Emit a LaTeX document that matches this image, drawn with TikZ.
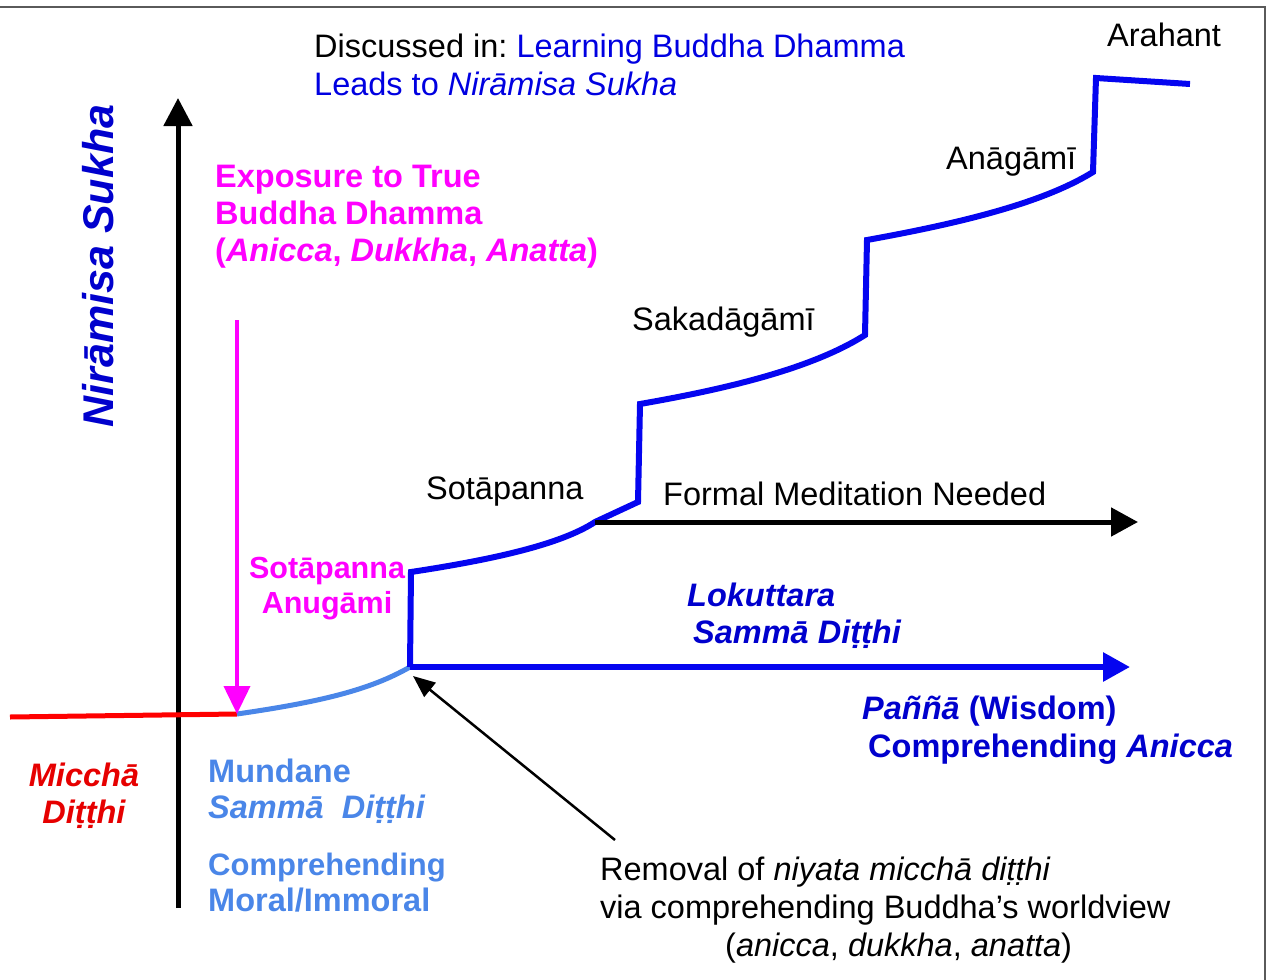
\documentclass[tikz,border=0pt]{standalone}
\usepackage{fontspec}
\setmainfont{Liberation Sans}
\usetikzlibrary{arrows.meta}
\definecolor{textblue}{RGB}{0,0,225}
\definecolor{lineblue}{RGB}{5,5,240}
\definecolor{darkblue}{RGB}{0,0,205}
\definecolor{lightblue}{RGB}{74,134,232}
\definecolor{magentaC}{RGB}{255,0,255}
\definecolor{redline}{RGB}{255,0,0}
\definecolor{redtext}{RGB}{230,0,0}
\definecolor{framegray}{RGB}{90,90,90}
\frenchspacing
\begin{document}
\begin{tikzpicture}[x=1pt,y=-1pt,
  norm/.style={inner sep=0pt, anchor=base west, font=\fontsize{32.5}{38}\selectfont},
  bld/.style={norm, font=\fontsize{32.5}{38}\selectfont\bfseries},
  bldc/.style={inner sep=0pt, anchor=base, font=\fontsize{32.5}{38}\selectfont\bfseries},
  stepline/.style={draw=lineblue, line width=6pt},
  bigtip/.style={-{Triangle[length=28pt,width=28pt]}},
]
\useasboundingbox (0,0) rectangle (1270,980);
% frame
\draw[framegray, line width=2pt] (0,7) -- (1265,7) -- (1265,980);

% coordinates
\coordinate (axisBot) at (178,908);
\coordinate (axisTop) at (178,98);
\coordinate (redStart) at (10,717);
\coordinate (turn) at (237,714);
\coordinate (magTop) at (237,320);
\coordinate (j0) at (410,667);
\coordinate (s1a) at (411,572);
\coordinate (fm) at (595,522);
\coordinate (s1b) at (638,502);
\coordinate (s2a) at (640,404);
\coordinate (s2b) at (865,335);
\coordinate (s3a) at (867,240);
\coordinate (s3b) at (1093,172);
\coordinate (s4a) at (1096,78);
\coordinate (s4b) at (1190,84);
\coordinate (blueEnd) at (1130,667);
\coordinate (fmEnd) at (1138,522);
\coordinate (remStart) at (615,840);
\coordinate (remTip) at (413,676);

% axis
\draw[black, line width=5pt, bigtip] (axisBot) -- (axisTop);
% red and light blue base
\draw[redline, line width=5pt] (redStart) -- (turn);
\draw[lightblue, line width=5pt] (turn) .. controls (320,702) and (370,690) .. (j0);
% magenta arrow
\draw[magentaC, line width=4pt, -{Triangle[length=28pt,width=26pt]}] (magTop) -- (turn);
% blue steps
\draw[stepline, line join=miter] (j0) -- (s1a)
  .. controls (490,560) and (560,545) .. (fm)
  -- (s1b) -- (s2a)
  .. controls (720,390) and (810,370) .. (s2b)
  -- (s3a)
  .. controls (950,225) and (1040,205) .. (s3b)
  -- (s4a) -- (s4b);
% blue arrow
\draw[lineblue, line width=6pt, -{Triangle[length=27pt,width=28pt]}] (j0) -- (blueEnd);
% formal meditation arrow
\draw[black, line width=5pt, -{Triangle[length=27pt,width=28pt]}] (fm) -- (fmEnd);
% removal arrow
\draw[black, line width=2.5pt, -{Triangle[length=22pt,width=18pt]}] (remStart) -- (remTip);

% texts
\node[norm] (disc) at (314,57) {Discussed in: \textcolor{textblue}{Learning Buddha Dhamma}};
\node[norm, text=textblue] (leads) at (314,95) {Leads to \textit{Nirāmisa Sukha}};
\node[norm] (arahant) at (1107,46) {Arahant};
\node[norm] (anagami) at (946,169) {Anāgāmī};
\node[norm] (sakad) at (632,330) {Sakadāgāmī};
\node[norm] (sotap) at (426,499) {Sotāpanna};
\node[norm] (formal) at (663,505) {Formal Meditation Needed};

\node[inner sep=0pt, rotate=90, text=darkblue, font=\fontsize{43}{50}\selectfont\bfseries\itshape] (nir) at (98,266) {Nirāmisa Sukha};

\node[bld, text=magentaC] (exp1) at (215,187) {Exposure to True};
\node[bld, text=magentaC] (exp2) at (215,224) {Buddha Dhamma};
\node[bld, text=magentaC] (exp3) at (215,261) {(\textit{Anicca}, \textit{Dukkha}, \textit{Anatta})};

\node[inner sep=0pt, anchor=base, text=magentaC, font=\fontsize{30.5}{36}\selectfont\bfseries] (anug1) at (327,578) {Sotāpanna};
\node[inner sep=0pt, anchor=base, text=magentaC, font=\fontsize{30.5}{36}\selectfont\bfseries] (anug2) at (327,613) {Anugāmi};

\node[bldc, text=redtext, font=\fontsize{32.5}{38}\selectfont\bfseries\itshape] (mic1) at (84,786) {Micchā};
\node[bldc, text=redtext, font=\fontsize{32.5}{38}\selectfont\bfseries\itshape] (mic2) at (84,823) {Diṭṭhi};

\node[bld, text=lightblue] (mun1) at (208,782) {Mundane};
\node[bld, text=lightblue] (mun2) at (208,818) {\textit{Sammā\ \ Diṭṭhi}};
\node[bld, text=lightblue, font=\fontsize{31}{38}\selectfont\bfseries] (mun3) at (208,875) {Comprehending};
\node[bld, text=lightblue] (mun4) at (208,911) {Moral/Immoral};

\node[bld, text=darkblue] (lok1) at (687,606) {\textit{Lokuttara}};
\node[bld, text=darkblue] (lok2) at (693,643) {\textit{Sammā Diṭṭhi}};
\node[bld, text=darkblue] (pan1) at (862,719) {\textit{Paññā} (Wisdom)};
\node[bld, text=darkblue] (pan2) at (868,757) {Comprehending \textit{Anicca}};

\node[norm] (rem1) at (600,880) {Removal of \textit{niyata micchā diṭṭhi}};
\node[norm] (rem2) at (600,918) {via comprehending Buddha’s worldview};
\node[norm] (rem3) at (725,956) {(\textit{anicca}, \textit{dukkha}, \textit{anatta})};
\end{tikzpicture}
\end{document}
